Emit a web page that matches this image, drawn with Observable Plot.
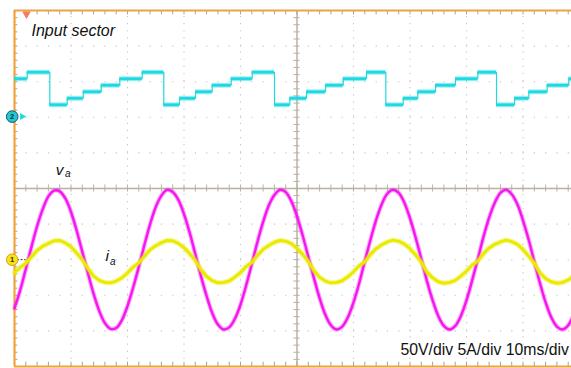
<!DOCTYPE html>
<html><head><meta charset="utf-8">
<script src="https://cdn.jsdelivr.net/npm/d3@7"></script>
<script src="https://cdn.jsdelivr.net/npm/@observablehq/plot@0.6"></script>
<style>html,body{margin:0;padding:0;background:#fff;} svg{display:block;}</style>
</head><body><div id="chart"></div>
<script>
// time base: one sample per ms (10 ms/div)
const voltage = [-68,-43,-13,18,47,71,89,97,96,86,67,41,11,-19,-48,-72,-89,-97,-96,-85,
-65,-39,-10,21,50,74,90,98,95,84,64,38,8,-23,-51,-75,-91,-98,-95,-83,
-63,-36,-6,25,53,76,91,98,95,82,61,34,4,-26,-54,-77,-92,-98,-94,-81,
-60,-33,-2,28,56,78,93,98,94,80,58,31,1,-30,-57,-79,-93,-98,-93,-79,
-57,-29,1,32,59,80,94,98,92,78,55,28,-3,-33,-60,-81,-94,-98,-92,-77,-54];
const current = [-1.8,-1.1,-0.5,0.4,1.3,1.9,2.3,2.65,2.7,2.35,1.8,0.95,0.0,-1.25,-2.3,-2.9,-3.2,-3.25,-3.0,-2.55,
-1.85,-1.05,-0.45,0.5,1.4,1.95,2.4,2.7,2.65,2.3,1.7,0.85,-0.1,-1.4,-2.35,-2.95,-3.25,-3.2,-3.0,-2.45,
-1.8,-0.95,-0.4,0.6,1.45,2.0,2.45,2.7,2.6,2.25,1.6,0.75,-0.25,-1.55,-2.45,-3.0,-3.25,-3.2,-2.95,-2.4,
-1.7,-0.85,-0.3,0.75,1.55,2.1,2.5,2.75,2.6,2.2,1.55,0.65,-0.35,-1.75,-2.55,-3.1,-3.3,-3.2,-2.9,-2.3,
-1.6,-0.75,-0.2,0.85,1.65,2.15,2.5,2.75,2.55,2.15,1.45,0.5,-0.5,-1.85,-2.65,-3.1,-3.3,-3.2,-2.85,-2.25,-1.55];
const sectorTimes = [0,2.25,6.25,9.33,12.16,15.35,18.64,22.60,26.42,29.20,32.04,34.99,38.35,42.07,46.02,48.73,51.68,55.04,58.18,62.30,65.72,68.80,71.38,74.51,78.05,82.00,85.31,88.50,91.03,94.28,98.11];
const sectorValues = [5,6,1,2,3,4,5,6,1,2,3,4,5,6,1,2,3,4,5,6,1,2,3,4,5,6,1,2,3,4,5];
const scaleLabel = "50V/div 5A/div 10ms/div";

const T_END = 98.58;
const VDIV = 50, IDIV = 5;          // per division
const CH1_GND = -2.0, CH2_GND = 2.02; // divisions
const SEC_BASE = 0.148, SEC_STEP = 0.183;

const wave = voltage.map((v, i) => ({t: i, v, i: current[i]}));
const secPts = sectorTimes.map((t, k) => ({t, s: sectorValues[k]}));
secPts.push({t: T_END, s: sectorValues[sectorValues.length - 1]});
const secSeg = sectorTimes.map((t, k) => ({x1: t, x2: k + 1 < sectorTimes.length ? sectorTimes[k + 1] : T_END, s: sectorValues[k]}));
const secY = d => CH2_GND + SEC_BASE + SEC_STEP * d.s;

const xMinor = d3.range(0, T_END, 2);
const yMinor = d3.range(-5, 5.001, 0.2);
const xMajor = [10,20,30,40,60,70,80,90];
const yMajor = [-4,-3,-2,-1,1,2,3,4];

const MAG = "#f516f0", YEL = "#eaea00", CYA = "#1ed8e2", ORA = "#f0a33c", TICK = "#aaa297", CEN = "#b9b1a3";
const FONT = "Liberation Sans, Arial, sans-serif";

const chart = Plot.plot({
  width: 571, height: 368,
  marginLeft: 14, marginRight: 0, marginTop: 10, marginBottom: 2,
  x: {domain: [0, T_END], axis: null},
  y: {domain: [-5, 5], axis: null},
  style: {background: "#fff", fontFamily: FONT},
  marks: [
    Plot.ruleX(xMajor, {y1: -5, y2: 5, stroke: "#c4c4c4", strokeWidth: 1.1, strokeDasharray: "1.2,5.92"}),
    Plot.ruleY(yMajor, {x1: 0, x2: T_END, stroke: "#c4c4c4", strokeWidth: 1.1, strokeDasharray: "1.2,10.1"}),
    Plot.ruleY([0], {x1: 0, x2: T_END, stroke: CEN, strokeWidth: 1.5}),
    Plot.ruleX([50], {y1: -5, y2: 5, stroke: CEN, strokeWidth: 1.5}),
    Plot.ruleX(xMinor, {y1: -0.1, y2: 0.1, stroke: CEN, strokeWidth: 1}),
    Plot.ruleY(yMinor, {x1: 49.45, x2: 50.55, stroke: CEN, strokeWidth: 1}),
    // frame ticks
    Plot.ruleX(xMinor, {y1: 5, y2: 4.88, stroke: TICK, strokeWidth: 1}),
    Plot.ruleX(xMinor, {y1: -5, y2: -4.88, stroke: TICK, strokeWidth: 1}),
    Plot.ruleY(yMinor, {x1: 0, x2: 0.6, stroke: TICK, strokeWidth: 1}),
    // frame
    Plot.ruleY([5, -5], {x1: 0, x2: T_END, stroke: ORA, strokeWidth: 2}),
    Plot.ruleX([0], {y1: -5, y2: 5, stroke: ORA, strokeWidth: 2.2}),
    // sector (ch2)
    Plot.line(secPts, {x: "t", y: secY, curve: "step-after", stroke: CYA, strokeWidth: 1.2}),
    Plot.ruleY(secSeg, {x1: "x1", x2: "x2", y: secY, stroke: CYA, strokeWidth: 5, strokeOpacity: 0.4}),
    Plot.ruleY(secSeg, {x1: "x1", x2: "x2", y: secY, stroke: CYA, strokeWidth: 2.8}),
    // voltage
    Plot.line(wave, {x: "t", y: d => CH1_GND + d.v / VDIV, curve: "catmull-rom", stroke: MAG, strokeWidth: 4.5, strokeOpacity: 0.35}),
    Plot.line(wave, {x: "t", y: d => CH1_GND + d.v / VDIV, curve: "catmull-rom", stroke: MAG, strokeWidth: 2.4}),
    // current
    Plot.line(wave, {x: "t", y: d => CH1_GND + d.i / IDIV, stroke: YEL, strokeWidth: 5.5, strokeOpacity: 0.35}),
    Plot.line(wave, {x: "t", y: d => CH1_GND + d.i / IDIV, stroke: YEL, strokeWidth: 3}),
    // trigger marker
    Plot.dot([{x: 2.12, y: 4.9}], {x: "x", y: "y", symbol: "triangle", r: 3.2, fill: "#f57c5c", stroke: "none", rotate: 180}),
    // ch2 marker
    Plot.dot([{x: 1.35, y: CH2_GND}], {x: "x", y: "y", symbol: "triangle", r: 2.6, fill: CYA, stroke: "none", rotate: 90}),
    Plot.dot([{x: -0.41, y: CH2_GND}], {x: "x", y: "y", r: 5.8, fill: "#22c9d4", stroke: "#0d5566", strokeWidth: 1}),
    Plot.text([{x: -0.41, y: CH2_GND}], {x: "x", y: "y", text: () => "2", fontSize: 7.5, fill: "#0b2a33", fontWeight: "bold"}),
    // ch1 marker
    Plot.ruleY([{y: CH1_GND}], {x1: 0.55, x2: 2.0, y: "y", stroke: "#333", strokeWidth: 1, strokeDasharray: "2,1.5"}),
    Plot.dot([{x: -0.41, y: CH1_GND}], {x: "x", y: "y", r: 5.8, fill: "#f4e21c", stroke: "#e09a22", strokeWidth: 1}),
    Plot.text([{x: -0.41, y: CH1_GND}], {x: "x", y: "y", text: () => "1", fontSize: 7.5, fill: "#3a2a00", fontWeight: "bold"}),
    // labels
    Plot.text([{x: 3.0, y: 4.27}], {x: "x", y: "y", text: () => "Input sector", fontSize: 16, fontStyle: "italic", textAnchor: "start", lineAnchor: "bottom", fill: "#111"}),
    Plot.text([{x: 7.3, y: 0.393}], {x: "x", y: "y", text: () => "v", fontSize: 15.5, fontStyle: "italic", textAnchor: "start", lineAnchor: "bottom", fill: "#111"}),
    Plot.text([{x: 8.95, y: 0.31}], {x: "x", y: "y", text: () => "a", fontSize: 10, fontStyle: "italic", textAnchor: "start", lineAnchor: "bottom", fill: "#111"}),
    Plot.text([{x: 16.1, y: -2.05}], {x: "x", y: "y", text: () => "i", fontSize: 15.5, fontStyle: "italic", textAnchor: "start", lineAnchor: "bottom", fill: "#111"}),
    Plot.text([{x: 16.9, y: -2.135}], {x: "x", y: "y", text: () => "a", fontSize: 10, fontStyle: "italic", textAnchor: "start", lineAnchor: "bottom", fill: "#111"}),
    Plot.text([{x: 68.3, y: -4.69}], {x: "x", y: "y", text: () => scaleLabel, fontSize: 15.8, textAnchor: "start", lineAnchor: "bottom", fill: "#111"})
  ]
});
document.getElementById("chart").append(chart);
</script></body></html>
